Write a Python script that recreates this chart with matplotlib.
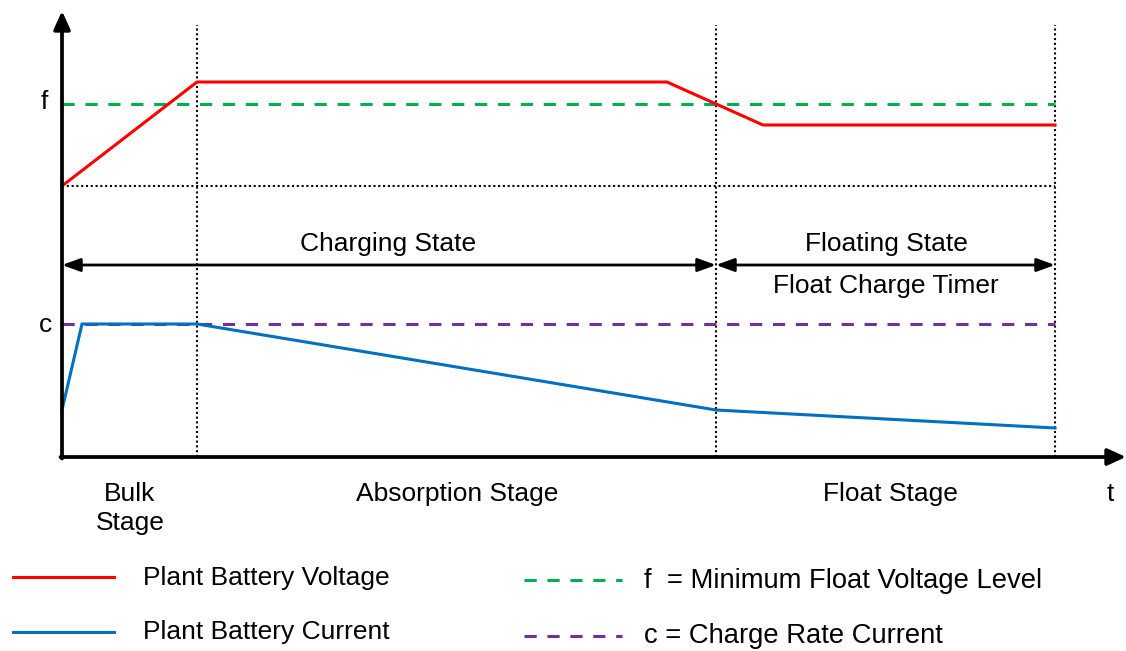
import matplotlib.pyplot as plt

plt.rcParams['font.family'] = ['Liberation Sans', 'DejaVu Sans']

# time (arbitrary units) and levels (arbitrary units)
stage_ends = [135, 654, 993]          # bulk, absorption, float stage ends
t_end = 993

volt_t = [0, 135, 605, 701, 993]
volt_v = [271, 375, 375, 332, 332]

curr_t = [0, 20, 135, 654, 993]
curr_i = [47, 133, 133, 47, 29]

f_level = 353
c_level = 133
start_level = 271

stage_names = ['Bulk\nStage', 'Absorption Stage', 'Float Stage']
stage_centers = [68, 395, 828]

fig = plt.figure(figsize=(11.26, 6.51), dpi=100)
ax = fig.add_axes([0, 0, 1, 1])
ax.set_xlim(-62, 1064)
ax.set_ylim(-194, 457)
ax.axis('off')

fs = 19

# axes with arrows
ax.annotate('', xy=(0, 446), xytext=(0, -1.5),
            arrowprops=dict(arrowstyle='-|>,head_width=0.5,head_length=1.1', color='black', lw=2.7, shrinkA=0, shrinkB=0))
ax.annotate('', xy=(1064, 0), xytext=(-1.5, 0),
            arrowprops=dict(arrowstyle='-|>,head_width=0.5,head_length=1.1', color='black', lw=2.7, shrinkA=0, shrinkB=0))

# dotted guides
for x in stage_ends:
    ax.plot([x, x], [0, 432], color='black', lw=1.5, ls=(0, (1, 1.3)))
ax.plot([0, t_end], [start_level, start_level], color='black', lw=1.5, ls=(0, (1, 1.3)))

# reference levels
ax.plot([0, t_end], [f_level, f_level], color='#00B050', lw=2.2, ls=(0, (4, 3.5)))
ax.plot([0, t_end], [c_level, c_level], color='#7030A0', lw=2.2, ls=(0, (4, 3.5)))

# series
ax.plot(volt_t, volt_v, color='#FF0000', lw=2.2, solid_joinstyle='miter')
ax.plot(curr_t, curr_i, color='#0070C0', lw=2.2, solid_joinstyle='miter')

# state arrows
ax.annotate('', xy=(0, 192), xytext=(654, 192),
            arrowprops=dict(arrowstyle='<|-|>,head_width=0.4,head_length=1.1', color='black', lw=2, shrinkA=0, shrinkB=0))
ax.annotate('', xy=(654, 192), xytext=(993, 192),
            arrowprops=dict(arrowstyle='<|-|>,head_width=0.4,head_length=1.1', color='black', lw=2, shrinkA=0, shrinkB=0))
ax.text(326, 213, 'Charging State', ha='center', va='center', fontsize=fs)
ax.text(824, 213, 'Floating State', ha='center', va='center', fontsize=fs)
ax.text(824, 171, 'Float Charge Timer', ha='center', va='center', fontsize=fs)

# level labels
ax.text(-18, 355, 'f', ha='center', va='center', fontsize=fs)
ax.text(-17, 132, 'c', ha='center', va='center', fontsize=fs)

# stage labels
for name, xc in zip(stage_names, stage_centers):
    lines = name.split('\n')
    for k, line in enumerate(lines):
        ax.text(xc, -37 - 29 * k, line, ha='center', va='center', fontsize=fs)
ax.text(1048, -37, 't', ha='center', va='center', fontsize=fs)

# legend
ax.plot([-49, 52], [-120, -120], color='#FF0000', lw=2.2)
ax.plot([-49, 52], [-175, -175], color='#0070C0', lw=2.2)
ax.text(81, -121, 'Plant Battery Voltage', ha='left', va='center', fontsize=fs)
ax.text(81, -175, 'Plant Battery Current', ha='left', va='center', fontsize=fs)
ax.plot([462, 560], [-123, -123], color='#00B050', lw=2.2, ls=(0, (4, 3.5)))
ax.plot([462, 560], [-179, -179], color='#7030A0', lw=2.2, ls=(0, (4, 3.5)))
ax.text(582, -124, 'f  = Minimum Float Voltage Level', ha='left', va='center', fontsize=19.7)
ax.text(582, -179, 'c = Charge Rate Current', ha='left', va='center', fontsize=19.7)

fig.savefig('out.png', dpi=100)
